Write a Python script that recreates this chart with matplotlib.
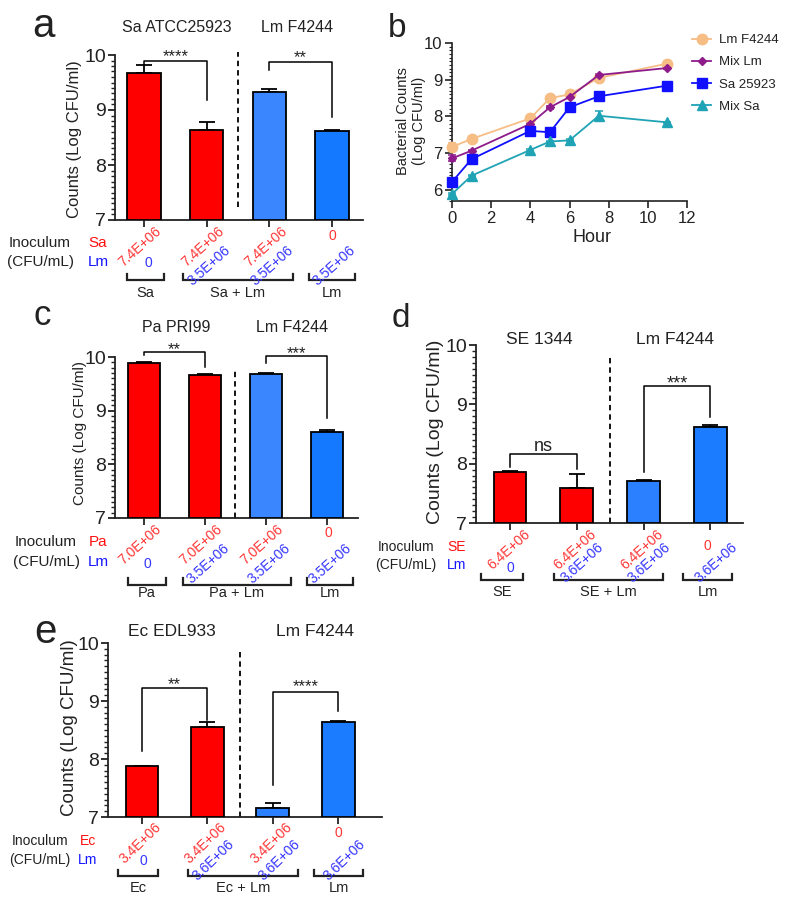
import matplotlib
matplotlib.use('Agg')
import matplotlib.pyplot as plt
from matplotlib.ticker import MultipleLocator
from matplotlib.transforms import blended_transform_factory
from matplotlib.lines import Line2D
import numpy as np

plt.rcParams['font.family'] = ['Liberation Sans', 'DejaVu Sans']
plt.rcParams['text.color'] = '#222222'
plt.rcParams['axes.edgecolor'] = '#222222'
plt.rcParams['xtick.color'] = '#222222'
plt.rcParams['ytick.color'] = '#222222'

# ---------------- data ----------------
# panel a
a_means = [9.68, 8.64, 9.33, 8.61]
a_err = [0.13, 0.14, 0.06, 0.02]
a_top = ['7.4E+06', '7.4E+06', '7.4E+06', '0']
a_bot = ['0', '3.5E+06', '3.5E+06', '3.5E+06']
a_titles = ['Sa ATCC25923', 'Lm F4244']
a_groups = ['Sa', 'Sa + Lm', 'Lm']
a_rows = ['Sa', 'Lm']
a_sig = ['****', '**']

# panel b
hours = [0, 1, 4, 5, 6, 7.5, 11]
lm_mean = [7.17, 7.39, 7.95, 8.50, 8.60, 9.05, 9.44]
lm_sd = [0.10, 0.02, 0.03, 0.04, 0.02, 0.05, 0.03]
mixlm_mean = [6.86, 7.07, 7.80, 8.25, 8.53, 9.13, 9.32]
mixlm_sd = [0.08, 0.02, 0.03, 0.04, 0.03, 0.03, 0.02]
sa_mean = [6.22, 6.84, 7.61, 7.57, 8.25, 8.55, 8.84]
sa_sd = [0.03, 0.03, 0.02, 0.02, 0.02, 0.07, 0.02]
mixsa_mean = [5.89, 6.39, 7.09, 7.32, 7.35, 8.02, 7.84]
mixsa_sd = [0.03, 0.02, 0.02, 0.02, 0.03, 0.13, 0.02]
b_series = ['Lm F4244', 'Mix Lm', 'Sa 25923', 'Mix Sa']

# panel c
c_means = [9.88, 9.66, 9.68, 8.61]
c_err = [0.03, 0.02, 0.02, 0.03]
c_top = ['7.0E+06', '7.0E+06', '7.0E+06', '0']
c_bot = ['0', '3.5E+06', '3.5E+06', '3.5E+06']
c_titles = ['Pa PRI99', 'Lm F4244']
c_groups = ['Pa', 'Pa + Lm', 'Lm']
c_rows = ['Pa', 'Lm']
c_sig = ['**', '***']

# panel d
d_means = [7.86, 7.59, 7.71, 8.62]
d_err = [0.01, 0.23, 0.01, 0.04]
d_top = ['6.4E+06', '6.4E+06', '6.4E+06', '0']
d_bot = ['0', '3.6E+06', '3.6E+06', '3.6E+06']
d_titles = ['SE 1344', 'Lm F4244']
d_groups = ['SE', 'SE + Lm', 'Lm']
d_rows = ['SE', 'Lm']
d_sig = ['ns', '***']

# panel e
e_means = [7.88, 8.55, 7.15, 8.63]
e_err = [0.0, 0.08, 0.10, 0.03]
e_top = ['3.4E+06', '3.4E+06', '3.4E+06', '0']
e_bot = ['0', '3.6E+06', '3.6E+06', '3.6E+06']
e_titles = ['Ec EDL933', 'Lm F4244']
e_groups = ['Ec', 'Ec + Lm', 'Lm']
e_rows = ['Ec', 'Lm']
e_sig = ['**', '****']

# ---------------- layout ----------------
W, H = 793, 907
fig = plt.figure(figsize=(W / 100, H / 100), dpi=100)

RED_T = '#ff3535'
BLUE_T = '#3535ff'
RED_R = '#ff1010'
BLUE_R = '#1515ff'
LW = 1.3


def axes_px(l, t, r, b):
    return fig.add_axes([l / W, 1 - b / H, (r - l) / W, (b - t) / H])


def ftext(x, y, s, **kw):
    return fig.text(x / W, 1 - y / H, s, **kw)


def bar_panel(cfg):
    ax = axes_px(*cfg['rect'])
    means = np.array(cfg['means'])
    n = len(means)
    x = np.arange(n)
    ax.bar(x, means - 7, bottom=7, width=cfg['width'], color=cfg['colors'],
           edgecolor='black', linewidth=LW, zorder=3)
    ax.errorbar(x, means, yerr=[np.zeros(n), cfg['err']], fmt='none',
                ecolor='black', elinewidth=LW, capsize=5.5, capthick=LW, zorder=2)
    ax.set_xlim(*cfg['xlim'])
    ax.set_ylim(7, 10)
    for s in ['top', 'right']:
        ax.spines[s].set_visible(False)
    for s in ['left', 'bottom']:
        ax.spines[s].set_linewidth(LW)
    ax.set_yticks([7, 8, 9, 10])
    ax.yaxis.set_minor_locator(MultipleLocator(0.1))
    ax.tick_params(axis='y', which='major', length=5, width=LW, labelsize=cfg['tick_fs'], pad=1.5)
    ax.tick_params(axis='y', which='minor', length=3, width=1.0)
    ax.set_xticks(x)
    ax.set_xticklabels([])
    ax.tick_params(axis='x', which='major', length=5, width=LW)
    # dashed separator
    ax.plot([1.5, 1.5], cfg['dash'], ls=(0, (3, 2.2)), color='black', lw=LW, clip_on=False)
    # significance brackets
    for (x0, x1, yt, yl, yr, ly, loff), lab in zip(cfg['sig_pos'], cfg['sig']):
        ax.plot([x0, x0, x1, x1], [yl, yt, yt, yr], color='black', lw=1.1, clip_on=False)
        ax.annotate(lab, xy=((x0 + x1) / 2, ly), xytext=(0, -loff), textcoords='offset pixels',
                    ha='center', va='baseline', fontsize=cfg['sig_fs'], annotation_clip=False)
    # rotated inoculum labels
    rl, rz, bl, bz = cfg['lab_off']
    for i in range(n):
        for s, col, off_long, off_zero in [(cfg['top'][i], RED_T, rl, rz), (cfg['bot'][i], BLUE_T, bl, bz)]:
            if s == '0':
                ax.annotate(s, xy=(x[i], 7), xytext=(off_zero[0], -off_zero[1]),
                            textcoords='offset pixels', ha='center', va='center',
                            color=col, fontsize=cfg['lab_fs'], annotation_clip=False)
            else:
                ax.annotate(s, xy=(x[i], 7), xytext=(off_long[0], -off_long[1]),
                            textcoords='offset pixels', ha='right', va='top',
                            rotation=cfg['rot'], rotation_mode='anchor',
                            color=col, fontsize=cfg['lab_fs'], annotation_clip=False)
    # group brackets below
    trans = blended_transform_factory(ax.transData, fig.transFigure)
    yb, yt2, ylab = cfg['grp_y']
    for (g0, g1), lab in zip(cfg['grp_x'], cfg['groups']):
        ax.plot([g0, g0, g1, g1], [1 - yt2 / H, 1 - yb / H, 1 - yb / H, 1 - yt2 / H],
                transform=trans, color='#222222', lw=1.6, clip_on=False,
                solid_joinstyle='miter')
        ax.text((g0 + g1) / 2, 1 - ylab / H, lab, transform=trans, ha='center', va='center',
                fontsize=cfg['grp_fs'])
    ax.set_xlim(*cfg['xlim'])
    ax.set_ylim(7, 10)
    # titles, y label, letter, row labels
    for (tx, ty), t in zip(cfg['title_pos'], cfg['titles']):
        ftext(tx, ty, t, ha='center', va='center', fontsize=cfg['title_fs'])
    ftext(cfg['ylab_pos'][0], cfg['ylab_pos'][1], 'Counts (Log CFU/ml)', rotation=90,
          ha='center', va='center', fontsize=cfg['ylab_fs'])
    lx, ly, lfs, letter = cfg['letter']
    ftext(lx, ly, letter, ha='center', va='baseline', fontsize=lfs)
    ix, rx, y1, y2 = cfg['rows_pos']
    ftext(ix, y1, 'Inoculum', ha='center', va='center', fontsize=cfg['row_fs'])
    ftext(ix, y2, '(CFU/mL)', ha='center', va='center', fontsize=cfg['row_fs'])
    ftext(rx, y1, cfg['rows'][0], ha='center', va='center', fontsize=cfg['row_fs'], color=RED_R)
    ftext(rx, y2, cfg['rows'][1], ha='center', va='center', fontsize=cfg['row_fs'], color=BLUE_R)
    return ax


panels = [
    dict(rect=(115, 55, 363, 220), xlim=(-0.463, 3.494), means=a_means, err=a_err,
         colors=['#ff0000', '#ff0000', '#3a86ff', '#1479ff'], width=0.53,
         dash=(7.24, 10.05), tick_fs=14, sig=a_sig,
         sig_pos=[(0, 1, 9.90, 9.82, 9.18, 10.06, 9), (2, 3, 9.88, 9.73, 8.87, 10.04, 9)],
         sig_fs=12, top=a_top, bot=a_bot, rot=42,
         lab_off=[(11, 4), (0, 16), (17, 23), (4, 43)], lab_fs=10,
         grp_x=[(-0.27, 0.32), (0.62, 2.38), (2.63, 3.37)], groups=a_groups,
         grp_y=(280, 274, 293), grp_fs=10.5,
         titles=a_titles, title_pos=[(177, 28), (297, 28)], title_fs=11.5,
         ylab_pos=(74, 139), ylab_fs=12, letter=(43, 37, 29, 'a'),
         rows=a_rows, rows_pos=(40, 98, 243, 262), row_fs=11),
    dict(rect=(115, 357, 358, 518), xlim=(-0.475, 3.508), means=c_means, err=c_err,
         colors=['#ff0000', '#ff0000', '#3a86ff', '#1479ff'], width=0.52,
         dash=(7.0, 9.8), tick_fs=14, sig=c_sig,
         sig_pos=[(0, 1, 10.10, 10.04, 9.82, 10.22, 9), (2, 3, 10.02, 9.89, 8.86, 10.14, 9)],
         sig_fs=12, top=c_top, bot=c_bot, rot=42,
         lab_off=[(11, 4), (1, 15), (18, 23), (3, 46)], lab_fs=10,
         grp_x=[(-0.26, 0.36), (0.64, 2.41), (2.67, 3.43)], groups=c_groups,
         grp_y=(585, 578, 593), grp_fs=10.5,
         titles=c_titles, title_pos=[(176, 328), (292, 328)], title_fs=11.5,
         ylab_pos=(80, 433), ylab_fs=11, letter=(42, 325, 25, 'c'),
         rows=c_rows, rows_pos=(46, 98, 542, 562), row_fs=11),
    dict(rect=(476, 345, 743, 523), xlim=(-0.51, 3.49), means=d_means, err=d_err,
         colors=['#ff0000', '#ff0000', '#2a80ff', '#1c7cff'], width=0.49,
         dash=(7.0, 9.8), tick_fs=14, sig=d_sig,
         sig_pos=[(0, 1, 8.16, 7.95, 7.91, 8.30, 5), (2, 3, 9.31, 7.86, 8.79, 9.42, 9)],
         sig_fs=13, top=d_top, bot=d_bot, rot=42,
         lab_off=[(13, 4), (-3, 23), (20, 17), (0, 45)], lab_fs=10,
         grp_x=[(-0.43, 0.19), (0.66, 2.29), (2.59, 3.33)], groups=d_groups,
         grp_y=(580, 574, 592), grp_fs=10.5,
         titles=d_titles, title_pos=[(539, 339), (675, 339)], title_fs=12.5,
         ylab_pos=(436, 432), ylab_fs=14, letter=(401, 327, 24, 'd'),
         rows=d_rows, rows_pos=(406, 457, 547, 565), row_fs=10),
    dict(rect=(108, 643, 382, 817), xlim=(-0.52, 3.67), means=e_means, err=e_err,
         colors=['#ff0000', '#ff0000', '#2a80ff', '#1c7cff'], width=0.5,
         dash=(7.0, 9.85), tick_fs=14, sig=e_sig,
         sig_pos=[(0, 1, 9.22, 8.13, 8.67, 9.36, 9), (2, 3, 9.16, 7.55, 8.82, 9.33, 9)],
         sig_fs=12, top=e_top, bot=e_bot, rot=44,
         lab_off=[(12, 3), (0, 16), (20, 20), (1, 44)], lab_fs=10,
         grp_x=[(-0.37, 0.25), (0.70, 2.39), (2.63, 3.38)], groups=e_groups,
         grp_y=(876, 870, 888), grp_fs=10.5,
         titles=e_titles, title_pos=[(172, 632), (315, 632)], title_fs=12.5,
         ylab_pos=(70, 728), ylab_fs=13.5, letter=(45, 643, 29, 'e'),
         rows=e_rows, rows_pos=(40, 88, 841, 860), row_fs=10),
]

for cfg in panels:
    bar_panel(cfg)

# ---------------- panel b ----------------
axb = axes_px(452, 43, 687, 201)
b_styles = [
    (lm_mean, lm_sd, '#f6bd85', 'o', 7.5),
    (mixlm_mean, mixlm_sd, '#8e1a8c', 'D', 4.5),
    (sa_mean, sa_sd, '#1010ff', 's', 7),
    (mixsa_mean, mixsa_sd, '#1fa3b5', '^', 6.5),
]
handles = []
for (m, sd, col, mk, ms), name in zip(b_styles, b_series):
    axb.errorbar(hours, m, yerr=sd, color=col, marker=mk, markersize=ms, lw=1.3,
                 elinewidth=1.1, capsize=3, capthick=1.1, clip_on=False, zorder=3)
    handles.append(Line2D([], [], color=col, marker=mk, markersize=ms, lw=1.3, label=name))
axb.set_xlim(0, 12)
axb.set_ylim(5.7, 10)
for s in ['top', 'right']:
    axb.spines[s].set_visible(False)
for s in ['left', 'bottom']:
    axb.spines[s].set_linewidth(1.2)
axb.set_yticks([6, 7, 8, 9, 10])
axb.yaxis.set_minor_locator(MultipleLocator(0.1))
axb.set_xticks([0, 2, 4, 6, 8, 10, 12])
axb.tick_params(axis='both', which='major', length=5, width=1.2, labelsize=12, pad=2)
axb.tick_params(axis='y', which='minor', length=2.5, width=0.8)
ftext(592, 238, 'Hour', ha='center', va='center', fontsize=13)
ftext(411, 121, 'Bacterial Counts\n(Log CFU/ml)', rotation=90, ha='center', va='center',
      fontsize=10.5, linespacing=1.1)
ftext(397, 37, 'b', ha='center', va='baseline', fontsize=24)
fig.legend(handles=handles, loc='upper left', bbox_to_anchor=(692 / W, 1 - 34 / H),
           frameon=False, fontsize=9.5, handlelength=1.45, handletextpad=0.6,
           labelspacing=0.75, borderpad=0, borderaxespad=0)

fig.savefig('out.png', dpi=100)
